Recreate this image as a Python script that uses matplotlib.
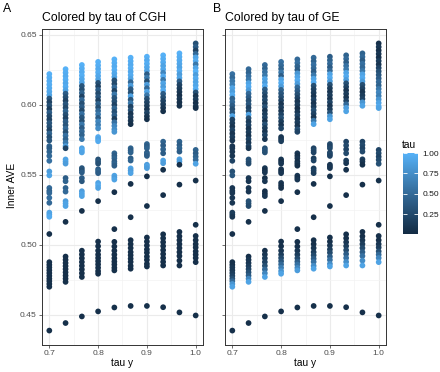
import numpy as np
import matplotlib
matplotlib.use("Agg")
import matplotlib.pyplot as plt
from matplotlib.colors import LinearSegmentedColormap, Normalize

plt.rcParams['font.family'] = ['Liberation Sans', 'DejaVu Sans']

# tau y levels (x positions of the columns)
tau_y = [0.7, 0.7333, 0.7667, 0.8, 0.8333, 0.8667, 0.9, 0.9333, 0.9667, 1.0]

# Inner AVE per tau y level
inner_ave = [
    [0.622, 0.6195, 0.617, 0.6145, 0.612, 0.6095, 0.607, 0.6045, 0.602, 0.5995, 0.597, 0.5945, 0.592, 0.5895, 0.587, 0.5845, 0.582, 0.5795, 0.577, 0.5745,
     0.5705, 0.569, 0.5665, 0.5635, 0.560, 0.5524, 0.5496, 0.5406, 0.5385, 0.537, 0.5336, 0.530, 0.523, 0.5215, 0.520, 0.5077,
     0.4876, 0.4857, 0.4838, 0.4818, 0.4798, 0.4778, 0.4758, 0.474, 0.472, 0.470, 0.4387],
    [0.6255, 0.623, 0.6205, 0.618, 0.6155, 0.613, 0.6105, 0.608, 0.6055, 0.603, 0.6005, 0.598, 0.5955, 0.593, 0.5905, 0.588, 0.5855, 0.583, 0.5805, 0.578, 0.5755, 0.573,
     0.5705, 0.569, 0.561, 0.5595, 0.558, 0.5477, 0.5454, 0.5406, 0.538, 0.5312, 0.5295, 0.5277, 0.5164,
     0.4916, 0.4893, 0.487, 0.4848, 0.4826, 0.4803, 0.478, 0.4758, 0.4735, 0.4441],
    [0.6285, 0.626, 0.6235, 0.621, 0.6185, 0.616, 0.6135, 0.611, 0.6085, 0.606, 0.6035, 0.601, 0.5985, 0.596, 0.5935, 0.591, 0.5885, 0.586, 0.5835, 0.581, 0.5785, 0.5755,
     0.569, 0.5675, 0.566, 0.5548, 0.5532, 0.5517, 0.5477, 0.5454, 0.5383, 0.5365, 0.5348, 0.5242,
     0.4958, 0.4931, 0.4904, 0.4877, 0.485, 0.4824, 0.4797, 0.477, 0.4488],
    [0.6307, 0.6282, 0.6257, 0.6232, 0.6207, 0.6182, 0.6157, 0.6132, 0.6107, 0.6082, 0.6057, 0.6032, 0.6007, 0.5982, 0.5957, 0.5932, 0.5907, 0.5882, 0.5857, 0.5832,
     0.577, 0.5755, 0.574, 0.561, 0.5595, 0.558, 0.554, 0.5526, 0.5512, 0.5442, 0.5424, 0.5406, 0.5312,
     0.5023, 0.499, 0.4958, 0.493, 0.4906, 0.4883, 0.486, 0.4836, 0.4812, 0.4793, 0.4524],
    [0.6325, 0.63, 0.6275, 0.625, 0.6225, 0.62, 0.6175, 0.615, 0.6125, 0.61, 0.6075, 0.605, 0.6025, 0.6, 0.5975, 0.595, 0.5925, 0.59, 0.5875, 0.585, 0.5825, 0.5807,
     0.5654, 0.5636, 0.5618, 0.5595, 0.558, 0.5565, 0.5494, 0.548, 0.5466, 0.5376, 0.5112,
     0.5021, 0.4988, 0.4958, 0.493, 0.4904, 0.488, 0.4859, 0.4836, 0.4817, 0.4552],
    [0.6337, 0.6312, 0.6287, 0.6262, 0.6237, 0.6212, 0.6187, 0.6162, 0.6137, 0.6112, 0.6087, 0.6062, 0.6037, 0.6012, 0.5987, 0.5962, 0.5937, 0.5912, 0.5887, 0.5862,
     0.569, 0.5675, 0.566, 0.5618, 0.5602, 0.5546, 0.553, 0.5512, 0.5435, 0.5197,
     0.5033, 0.5005, 0.4977, 0.4948, 0.4925, 0.4901, 0.4878, 0.485, 0.4829, 0.4563],
    [0.6344, 0.6319, 0.6294, 0.6269, 0.6244, 0.6219, 0.6194, 0.6169, 0.6144, 0.6119, 0.6094, 0.6069, 0.6044, 0.6019, 0.5994, 0.5969, 0.5944, 0.5919, 0.5897,
     0.572, 0.5705, 0.569, 0.5659, 0.5647, 0.5635, 0.5572, 0.556, 0.5548, 0.5489, 0.5277,
     0.5052, 0.5023, 0.4995, 0.4967, 0.4944, 0.4916, 0.4892, 0.4864, 0.4845, 0.4563],
    [0.6354, 0.6329, 0.6304, 0.6279, 0.6254, 0.6229, 0.6204, 0.6179, 0.6154, 0.6129, 0.6104, 0.6079, 0.6054, 0.6029, 0.6004, 0.5979, 0.5954,
     0.5737, 0.571, 0.5682, 0.5654, 0.5602, 0.5583, 0.5536, 0.5355,
     0.5075, 0.5047, 0.5019, 0.4991, 0.4962, 0.4934, 0.4906, 0.4878, 0.4852, 0.4554],
    [0.6368, 0.6343, 0.6318, 0.6293, 0.6268, 0.6243, 0.6218, 0.6193, 0.6168, 0.6143, 0.6118, 0.6093, 0.6068, 0.6043, 0.6018, 0.5993,
     0.5737, 0.5713, 0.569, 0.5666, 0.5611, 0.5595, 0.5572, 0.543,
     0.5092, 0.5061, 0.5033, 0.5005, 0.4977, 0.4948, 0.492, 0.4887, 0.4852, 0.4517],
    [0.6439, 0.6414, 0.6389, 0.6364, 0.6339, 0.6314, 0.6289, 0.6264, 0.6239, 0.6214, 0.6189, 0.6164, 0.6139, 0.6114, 0.6089, 0.6064, 0.6039, 0.6014, 0.5989, 0.5977,
     0.5678, 0.5654, 0.563, 0.5607, 0.5579, 0.5459, 0.5143,
     0.5063, 0.5033, 0.5005, 0.4981, 0.4953, 0.493, 0.4906, 0.4876, 0.4495],
]

# tau of CGH (colour of panel A)
tau_cgh = [
    [1.0, 0.98, 0.96, 0.97, 0.95, 0.93, 0.9, 0.35, 0.2, 0.3, 0.15, 0.4, 0.25, 0.2, 0.35, 0.3, 0.2, 0.45, 0.3, 0.35,
     0.45, 0.4, 0.45, 0.5, 0.55, 0.85, 0.9, 0.5, 0.45, 0.5, 0.55, 0.5, 0.9, 0.9, 0.95, 0.05,
     0.05, 0.05, 0.05, 0.05, 0.05, 0.05, 0.05, 0.05, 0.05, 0.05, 0.05],
    [1.0, 0.97, 0.95, 0.98, 0.93, 0.96, 0.9, 0.4, 0.3, 0.2, 0.35, 0.25, 0.45, 0.3, 0.2, 0.4, 0.35, 0.5, 0.3, 0.55, 0.45, 0.6,
     0.85, 0.2, 0.9, 0.9, 0.85, 0.4, 0.45, 0.45, 0.5, 0.85, 0.9, 0.9, 0.05,
     0.05, 0.05, 0.05, 0.05, 0.05, 0.05, 0.05, 0.05, 0.05, 0.05],
    [1.0, 0.97, 0.95, 0.98, 0.93, 0.9, 0.35, 0.3, 0.45, 0.2, 0.5, 0.3, 0.4, 0.25, 0.55, 0.35, 0.3, 0.6, 0.4, 0.5, 0.45, 0.6,
     0.9, 0.95, 0.9, 0.35, 0.3, 0.4, 0.4, 0.35, 0.85, 0.9, 0.9, 0.05,
     0.05, 0.05, 0.05, 0.05, 0.05, 0.05, 0.05, 0.05, 0.05],
    [1.0, 0.98, 0.95, 0.97, 0.93, 0.9, 0.3, 0.2, 0.4, 0.25, 0.35, 0.2, 0.45, 0.3, 0.5, 0.6, 0.4, 0.7, 0.65, 0.75,
     0.95, 0.9, 0.95, 0.3, 0.35, 0.3, 0.4, 0.45, 0.4, 0.9, 0.95, 0.9, 0.05,
     0.05, 0.05, 0.05, 0.05, 0.05, 0.05, 0.05, 0.05, 0.05, 0.05, 0.05],
    [1.0, 0.97, 0.95, 0.98, 0.93, 0.9, 0.3, 0.25, 0.5, 0.2, 0.6, 0.35, 0.3, 0.2, 0.45, 0.3, 0.4, 0.15, 0.55, 0.7, 0.75, 0.8,
     0.45, 0.4, 0.45, 0.4, 0.45, 0.4, 0.9, 0.85, 0.9, 0.05, 0.05,
     0.05, 0.05, 0.05, 0.05, 0.05, 0.05, 0.05, 0.05, 0.05, 0.05],
    [1.0, 0.97, 0.95, 0.98, 0.93, 0.96, 0.9, 0.5, 0.85, 0.4, 0.3, 0.9, 0.35, 0.6, 0.2, 0.3, 0.1, 0.15, 0.1, 0.05,
     0.45, 0.4, 0.45, 0.4, 0.45, 0.9, 0.85, 0.9, 0.05, 0.05,
     0.05, 0.05, 0.05, 0.05, 0.05, 0.05, 0.05, 0.05, 0.05, 0.05],
    [1.0, 0.95, 0.97, 0.93, 0.9, 0.4, 0.6, 0.3, 0.85, 0.5, 0.9, 0.6, 0.3, 0.2, 0.15, 0.1, 0.2, 0.1, 0.05,
     0.45, 0.4, 0.45, 0.4, 0.45, 0.4, 0.85, 0.9, 0.85, 0.05, 0.05,
     0.05, 0.05, 0.05, 0.05, 0.05, 0.05, 0.05, 0.05, 0.05, 0.05],
    [1.0, 0.97, 0.95, 0.9, 0.93, 0.7, 0.95, 0.6, 0.9, 0.85, 0.95, 0.4, 0.3, 0.2, 0.15, 0.1, 0.05,
     0.45, 0.4, 0.45, 0.4, 0.9, 0.85, 0.05, 0.05,
     0.05, 0.05, 0.05, 0.05, 0.05, 0.05, 0.05, 0.05, 0.05, 0.05],
    [1.0, 0.97, 0.95, 0.93, 0.9, 0.95, 0.85, 0.9, 0.4, 0.2, 0.15, 0.1, 0.05, 0.1, 0.05, 0.05,
     0.45, 0.4, 0.45, 0.4, 0.9, 0.85, 0.05, 0.05,
     0.05, 0.05, 0.05, 0.05, 0.05, 0.05, 0.05, 0.05, 0.05, 0.05],
    [0.3, 0.4, 0.2, 0.5, 0.9, 0.95, 0.6, 0.9, 1.0, 0.85, 0.95, 0.9, 0.92, 0.97, 0.3, 0.1, 0.15, 0.05, 0.1, 0.05,
     0.45, 0.4, 0.45, 0.5, 0.9, 0.05, 0.05,
     0.05, 0.05, 0.05, 0.05, 0.05, 0.05, 0.05, 0.05, 0.05],
]

# tau of GE (colour of panel B)
tau_ge = [
    [0.55, 0.5, 0.6, 0.65, 0.9, 0.85, 0.95, 0.45, 0.5, 0.4, 0.3, 0.35, 0.9, 0.2, 0.15, 0.1, 0.2, 0.1, 0.15, 0.1,
     0.1, 0.1, 0.1, 0.1, 0.2, 0.3, 0.35, 0.1, 0.1, 0.1, 0.1, 0.1, 0.15, 0.15, 0.1, 0.05,
     0.05, 0.05, 0.1, 0.1, 0.15, 0.2, 0.3, 0.5, 0.8, 0.9, 0.05],
    [0.5, 0.45, 0.55, 0.6, 0.9, 0.95, 0.85, 0.5, 0.4, 0.3, 0.35, 0.2, 0.25, 0.9, 0.3, 0.15, 0.2, 0.1, 0.15, 0.1, 0.2, 0.1,
     0.2, 0.1, 0.3, 0.3, 0.25, 0.1, 0.1, 0.1, 0.1, 0.3, 0.3, 0.25, 0.05,
     0.05, 0.1, 0.1, 0.15, 0.2, 0.3, 0.4, 0.7, 0.9, 0.05],
    [0.5, 0.45, 0.55, 0.6, 0.9, 0.85, 0.95, 0.4, 0.3, 0.2, 0.25, 0.15, 0.3, 0.1, 0.15, 0.2, 0.1, 0.3, 0.15, 0.1, 0.2, 0.1,
     0.3, 0.35, 0.3, 0.1, 0.05, 0.1, 0.05, 0.1, 0.05, 0.05, 0.1, 0.05,
     0.05, 0.1, 0.15, 0.2, 0.3, 0.5, 0.7, 0.9, 0.05],
    [0.55, 0.5, 0.45, 0.6, 0.4, 0.9, 0.95, 0.85, 0.45, 0.35, 0.3, 0.2, 0.1, 0.15, 0.1, 0.2, 0.3, 0.15, 0.1, 0.2,
     0.1, 0.1, 0.15, 0.1, 0.05, 0.1, 0.1, 0.05, 0.1, 0.1, 0.05, 0.05, 0.05,
     0.05, 0.05, 0.1, 0.15, 0.25, 0.35, 0.5, 0.65, 0.8, 0.9, 0.05],
    [0.5, 0.55, 0.45, 0.4, 0.8, 0.9, 0.95, 0.85, 0.5, 0.4, 0.3, 0.2, 0.1, 0.15, 0.05, 0.1, 0.2, 0.1, 0.15, 0.1, 0.3, 0.2,
     0.1, 0.05, 0.1, 0.05, 0.1, 0.05, 0.1, 0.05, 0.1, 0.05, 0.05,
     0.05, 0.05, 0.1, 0.15, 0.25, 0.4, 0.55, 0.7, 0.85, 0.05],
    [0.5, 0.45, 0.55, 0.5, 0.4, 0.6, 0.9, 0.95, 0.3, 0.2, 0.15, 0.1, 0.2, 0.1, 0.15, 0.3, 0.2, 0.1, 0.6, 0.9,
     0.2, 0.25, 0.2, 0.15, 0.2, 0.15, 0.2, 0.15, 0.05, 0.05,
     0.05, 0.05, 0.1, 0.15, 0.25, 0.4, 0.55, 0.75, 0.9, 0.05],
    [0.4, 0.45, 0.5, 0.4, 0.5, 0.9, 0.95, 0.85, 0.3, 0.15, 0.1, 0.15, 0.1, 0.2, 0.1, 0.15, 0.3, 0.8, 0.9,
     0.25, 0.2, 0.25, 0.2, 0.25, 0.2, 0.1, 0.1, 0.1, 0.05, 0.05,
     0.05, 0.05, 0.1, 0.15, 0.25, 0.4, 0.55, 0.75, 0.9, 0.05],
    [0.45, 0.5, 0.4, 0.55, 0.6, 0.9, 0.95, 0.85, 0.3, 0.2, 0.1, 0.15, 0.1, 0.2, 0.5, 0.85, 0.9,
     0.2, 0.25, 0.2, 0.25, 0.15, 0.1, 0.05, 0.05,
     0.05, 0.05, 0.1, 0.15, 0.25, 0.4, 0.55, 0.75, 0.9, 0.05],
    [0.45, 0.5, 0.4, 0.55, 0.5, 0.6, 0.9, 0.95, 0.85, 0.3, 0.2, 0.1, 0.15, 0.2, 0.8, 0.9,
     0.2, 0.25, 0.2, 0.25, 0.15, 0.1, 0.05, 0.05,
     0.05, 0.05, 0.1, 0.15, 0.25, 0.4, 0.55, 0.75, 0.9, 0.05],
    [0.05, 0.1, 0.05, 0.1, 0.05, 0.15, 0.1, 0.2, 0.3, 0.35, 0.4, 0.5, 0.45, 0.6, 0.7, 0.65, 0.8, 0.9, 0.95, 0.9,
     0.2, 0.25, 0.2, 0.25, 0.3, 0.05, 0.05,
     0.05, 0.05, 0.1, 0.15, 0.3, 0.5, 0.7, 0.9, 0.05],
]

titles = ['Colored by tau of CGH', 'Colored by tau of GE']
tags = ['A', 'B']

for col, a, b in zip(inner_ave, tau_cgh, tau_ge):
    assert len(col) == len(a) == len(b), (len(col), len(a), len(b))

x = np.concatenate([[t] * len(col) for t, col in zip(tau_y, inner_ave)])
y = np.concatenate(inner_ave)
colours = [np.concatenate(tau_cgh), np.concatenate(tau_ge)]

# ggplot2 default continuous gradient
cmap = LinearSegmentedColormap.from_list('gg', ['#132B43', '#336A98', '#56B1F7'])
norm = Normalize(0.01, 1.0)

W, H = 440, 372
fig = plt.figure(figsize=(W / 100, H / 100), dpi=100)
lefts = [42, 225]
for i in range(2):
    ax = fig.add_axes([lefts[i] / W, 27 / H, 161 / W, 316 / H])
    sc = ax.scatter(x, y, c=colours[i], cmap=cmap, norm=norm, s=17, linewidths=0, zorder=3)
    ax.set_xlim(0.685, 1.015)
    ax.set_ylim(0.4284, 0.6542)
    ax.set_xticks([0.7, 0.8, 0.9, 1.0])
    ax.set_xticklabels(['0.7', '0.8', '0.9', '1.0'])
    ax.set_xticks([0.75, 0.85, 0.95], minor=True)
    ax.set_yticks([0.45, 0.50, 0.55, 0.60, 0.65])
    ax.set_yticks([0.475, 0.525, 0.575, 0.625], minor=True)
    if i == 0:
        ax.set_yticklabels(['0.45', '0.50', '0.55', '0.60', '0.65'])
    else:
        ax.set_yticklabels([])
    ax.grid(which='major', color='#EBEBEB', lw=0.8, zorder=0)
    ax.grid(which='minor', color='#F3F3F3', lw=0.5, zorder=0)
    ax.set_axisbelow(True)
    for s in ax.spines.values():
        s.set_color('#333333')
        s.set_linewidth(0.7)
    ax.tick_params(which='major', length=2.2, width=0.5, color='#333333',
                   labelcolor='#4D4D4D', labelsize=6.1, pad=1.5)
    ax.tick_params(which='minor', length=0)
    ax.set_title(titles[i], loc='left', fontsize=8.8, pad=6)
    fig.text((lefts[i] + 80.5) / W, 1 - 366 / H, 'tau y', ha='center', va='baseline', fontsize=7.3)

fig.text(3 / W, 1 - 12 / H, tags[0], fontsize=8.8, va='baseline')
fig.text(213 / W, 1 - 12 / H, tags[1], fontsize=8.8, va='baseline')
fig.text(12 / W, 187 / H, 'Inner AVE', rotation=90, ha='center', va='center', fontsize=7.3)

# colour bar legend
cax = fig.add_axes([403 / W, 138 / H, 15 / W, 81 / H])
cb = fig.colorbar(sc, cax=cax, ticks=[0.25, 0.5, 0.75, 1.0])
cb.outline.set_visible(False)
cb.ax.set_yticklabels(['0.25', '0.50', '0.75', '1.00'])
cax.tick_params(direction='in', color='white', length=3, width=0.6, left=True, right=True,
                labelsize=6.1, labelcolor='#1A1A1A', pad=3)
fig.text(402 / W, 1 - 148 / H, 'tau', fontsize=7.3, va='baseline')

fig.savefig('out.png', dpi=100)
